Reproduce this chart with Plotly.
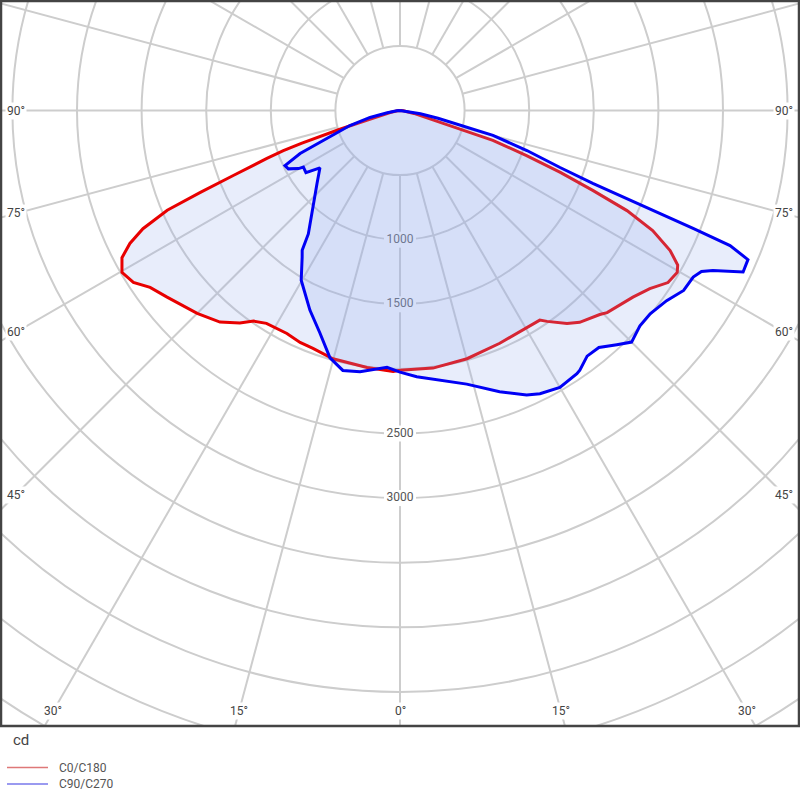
import plotly.graph_objects as go
import numpy as np

# ---------------- data (gamma in degrees from nadir, intensity in cd) ----------------
gamma_c0 = [0, 7.3, 15.1, 23.2, 32.0, 33.7, 34.9, 38.1, 40.3, 44.4, 45.7, 50.1, 51.3, 54.5, 57.3,
            59.7, 60.9, 62.6, 64.6, 66.2, 67.5, 68.9, 70.4, 72.2, 73.0, 74.0, 75.5, 78.0, 84.0, 90.0, 180.0]
cd_c0 = [2010, 2010, 1990, 1960, 1945, 1950, 1990, 2095, 2150, 2210, 2240, 2290, 2310, 2375, 2465,
         2485, 2460, 2355, 2165, 1920, 1615, 1330, 1040, 755, 485, 330, 220, 110, 25, 0, 0]

gamma_c180 = [0, 1.5, 7.3, 15.1, 20.1, 23.3, 26.9, 32.1, 34.8, 37.0, 40.4, 45.0, 51.3, 54.7, 57.2,
              59.8, 62.1, 63.8, 65.3, 66.8, 67.7, 68.7, 70.2, 71.0, 71.6, 72.0, 72.6, 73.3, 75.0, 78.7, 84.0, 90.0, 180.0]
cd_c180 = [2010, 2020, 2005, 1990, 1960, 1955, 1935, 1945, 1985, 2060, 2150, 2220, 2310, 2370, 2455,
           2490, 2435, 2330, 2190, 1960, 1670, 1385, 1095, 955, 805, 655, 505, 330, 190, 78, 18, 0, 0]

gamma_c90 = [0, 3.6, 9.1, 13.7, 19.5, 24.0, 26.3, 30.0, 33.9, 34.7, 37.3, 40.0, 42.8, 45.0, 48.1, 50.9,
             54.5, 57.6, 60.4, 61.9, 62.9, 64.8, 66.8, 67.75, 68.1, 68.4, 68.7, 69.3, 70.4, 72.5, 75.0,
             76.5, 78.5, 81.0, 85.0, 90.0, 180.0]
cd_c90 = [2025, 2065, 2115, 2180, 2310, 2410, 2445, 2475, 2455, 2445, 2390, 2395, 2470, 2535, 2495, 2495,
          2535, 2600, 2610, 2645, 2720, 2935, 2930, 2760, 2445, 2165, 1890, 1595, 1315, 1030, 745,
          480, 300, 160, 45, 0, 0]

gamma_c270 = [0, 2.9, 8.7, 12.4, 15.8, 19.8, 24.3, 30.2, 33.7, 35.0, 36.6, 41.9, 48.7, 54.4, 56.5,
              59.6, 60.2, 62.4, 64.4, 66.7, 68.7, 73.3, 76.9, 80.0, 85.0, 90.0, 180.0]
cd_c270 = [2025, 1990, 2045, 2060, 1990, 1830, 1695, 1520, 1365, 1320, 1190, 1008, 855, 762, 873,
           867, 905, 975, 987, 842, 640, 405, 238, 100, 25, 0, 0]

ring_values = [500, 1000, 1500, 2000, 2500, 3000, 3500, 4000, 4500, 5000, 5500, 6000]
ring_labels = [1000, 1500, 2500, 3000]
side_angle_labels = [90, 75, 60, 45]
bottom_angle_labels = [30, 15, 0]

series_names = ["C0/C180", "C90/C270"]

# ---------------- geometry ----------------
SCALE = 0.1292          # px per cd
CX, CY = 400.0, 110.5   # pole position in px
L, R, T, B = 1, 799, 1, 726
xr = [(L - CX) / SCALE, (R - CX) / SCALE]
yr = [-(B - CY) / SCALE, (CY - T) / SCALE]

GRID = "rgb(205,205,205)"
FILL = "rgba(150,175,235,0.22)"


def curve(g_left, i_left, g_right, i_right):
    gl = np.radians(np.array(g_left, float))
    il = np.array(i_left, float)
    gr = np.radians(np.array(g_right, float))
    ir = np.array(i_right, float)
    xl = -il * np.sin(gl)
    yl = -il * np.cos(gl)
    xrr = ir * np.sin(gr)
    yrr = -ir * np.cos(gr)
    x = np.concatenate([xl[::-1], xrr])
    y = np.concatenate([yl[::-1], yrr])
    return x, y


fig = go.Figure()

shapes = []
for r in ring_values:
    shapes.append(dict(type="circle", xref="x", yref="y", x0=-r, x1=r, y0=-r, y1=r,
                       line=dict(color=GRID, width=2), layer="below"))
r0, r1 = 500, 7000
for g in range(0, 181, 15):
    for s in ([1] if g in (0, 180) else [1, -1]):
        a = np.radians(g)
        shapes.append(dict(type="line", xref="x", yref="y",
                           x0=s * r0 * np.sin(a), y0=-r0 * np.cos(a),
                           x1=s * r1 * np.sin(a), y1=-r1 * np.cos(a),
                           line=dict(color=GRID, width=2), layer="below"))
for v in ring_labels:
    shapes.append(dict(type="rect", xref="x", yref="y", xsizemode="pixel", ysizemode="pixel",
                       xanchor=0, yanchor=-v, x0=-16, x1=16, y0=-8, y1=8,
                       fillcolor="white", line=dict(width=0), layer="below"))
shapes.append(dict(type="rect", xref="paper", yref="paper", x0=0, x1=1, y0=0, y1=1,
                   line=dict(color="#444", width=2.5), layer="above"))

fig.add_trace(go.Scatter(x=[0] * len(ring_labels), y=[-v for v in ring_labels], mode="text",
                         text=[str(v) for v in ring_labels],
                         textfont=dict(family="Roboto", size=12, color="#555"),
                         hoverinfo="skip", showlegend=False))

x1, y1 = curve(gamma_c180, cd_c180, gamma_c0, cd_c0)
fig.add_trace(go.Scatter(x=x1, y=y1, mode="lines", fill="toself", fillcolor=FILL,
                         line=dict(color="rgb(232,0,0)", width=3), name=series_names[0],
                         showlegend=False, hoverinfo="skip"))
x2, y2 = curve(gamma_c270, cd_c270, gamma_c90, cd_c90)
fig.add_trace(go.Scatter(x=x2, y=y2, mode="lines", fill="toself", fillcolor=FILL,
                         line=dict(color="rgb(0,0,245)", width=3), name=series_names[1],
                         showlegend=False, hoverinfo="skip"))

annotations = []
INSET_SIDE = 16
INSET_BOTTOM = 15
for g in side_angle_labels:
    for s in [1, -1]:
        px_dx = s * (400 - INSET_SIDE)
        dy = abs(px_dx) / np.tan(np.radians(g)) if g != 90 else 0.0
        annotations.append(dict(x=px_dx / SCALE, y=-dy / SCALE, xref="x", yref="y",
                                xanchor="center", yanchor="middle",
                                text=f"{g}°", showarrow=False, bgcolor="white", borderpad=1,
                                font=dict(family="Roboto", size=12, color="#444")))
for g in bottom_angle_labels:
    for s in ([1] if g == 0 else [1, -1]):
        dy = (B - INSET_BOTTOM) - CY
        dx = s * dy * np.tan(np.radians(g))
        annotations.append(dict(x=dx / SCALE, y=-dy / SCALE, xref="x", yref="y",
                                xanchor="center", yanchor="middle",
                                text=f"{g}°", showarrow=False, bgcolor="white", borderpad=1,
                                font=dict(family="Roboto", size=12, color="#444")))


def px(xp):
    return (xp - L) / (R - L)


def py(yp):
    return (B - yp) / (B - T)


annotations.append(dict(x=px(11), y=py(740), xref="paper", yref="paper",
                        xanchor="left", yanchor="middle",
                        text="cd", showarrow=False,
                        font=dict(family="Roboto", size=15, color="#444")))
legend_colors = ["rgb(222,120,120)", "rgb(120,120,235)"]
for nm, col, yy in zip(series_names, legend_colors, [767.5, 784]):
    shapes.append(dict(type="line", xref="paper", yref="paper", x0=px(7), x1=px(48),
                       y0=py(yy), y1=py(yy), line=dict(color=col, width=1.5)))
    annotations.append(dict(x=px(57), y=py(yy), xref="paper", yref="paper",
                            xanchor="left", yanchor="middle",
                            text=nm, showarrow=False,
                            font=dict(family="Roboto", size=12, color="#555")))

fig.update_layout(
    width=800, height=800,
    margin=dict(l=L, r=800 - R, t=T, b=800 - B),
    paper_bgcolor="white", plot_bgcolor="white",
    xaxis=dict(range=xr, visible=False, fixedrange=True),
    yaxis=dict(range=yr, visible=False, fixedrange=True),
    shapes=shapes, annotations=annotations, showlegend=False,
)

fig.write_html("out.html")
